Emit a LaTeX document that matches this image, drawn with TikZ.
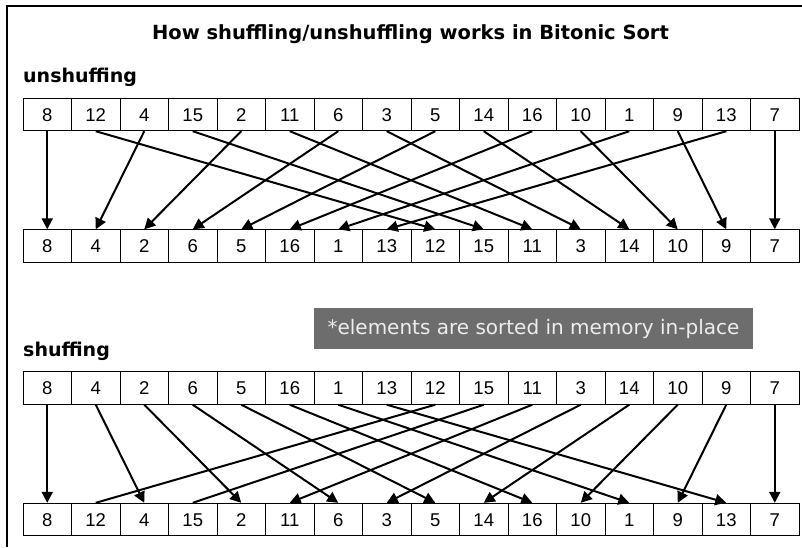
\documentclass[tikz,border=0pt]{standalone}
\usepackage{fontspec}
\setmainfont{Liberation Sans}
\newfontfamily\headfont{DejaVu Sans}
\usetikzlibrary{arrows.meta}

\definecolor{notegray}{HTML}{6D6D6D}

\begin{document}
\begin{tikzpicture}[
  x=1pt, y=-1pt,
  font=\fontsize{18.5}{21}\selectfont,
  cell/.style={
    draw,
    line width=0.9pt,
    minimum width=48.5pt,
    minimum height=32.5pt,
    text height=13.3pt,
    text depth=0pt,
    inner sep=0pt
  },
  heading/.style={
    font=\headfont\fontsize{19.5}{22}\selectfont\bfseries,
    anchor=base,
    inner sep=0pt
  },
  label/.style={
    font=\headfont\fontsize{19}{21}\selectfont\bfseries,
    anchor=base west,
    inner sep=0pt
  },
  note/.style={
    fill=notegray,
    text=white!93!black,
    font=\headfont\fontsize{20}{22}\selectfont,
    minimum width=439pt,
    minimum height=41pt,
    inner sep=0pt
  },
  movearrow/.style={
    -{Triangle[length=11pt,width=11pt]},
    line width=2pt
  },
  moveline/.style={
    line width=2pt
  }
]

\useasboundingbox (0,0) rectangle (802,547);

% frame
\draw[line width=1.2pt] (802,6) -- (7,6) -- (7,547);

\node[heading] (title) at (410.5,39) {How shuffling/unshuffling works in Bitonic Sort};

% Unshuffling
\node[label] (unsh_label) at (23,82) {unshuffing};

\foreach \v [count=\i from 0] in {8,12,4,15,2,11,6,3,5,14,16,10,1,9,13,7}
  \node[cell] (unsh_top\i) at (47.25+48.5*\i,114.5) {\v};

\foreach \v [count=\i from 0] in {8,4,2,6,5,16,1,13,12,15,11,3,14,10,9,7}
  \node[cell] (unsh_bot\i) at (47.25+48.5*\i,246) {\v};

\foreach \i in {0,...,15} {
  \pgfmathtruncatemacro\j{mod(\i,2)==0 ? \i/2 : 8+(\i-1)/2}
  \draw[movearrow] (unsh_top\i.south) -- (unsh_bot\j.north);
}

\node[note] (inplace) at (533.5,328.5) {*elements are sorted in memory in-place};

% Shuffling
\node[label] (sh_label) at (23,356) {shuffing};

\foreach \v [count=\i from 0] in {8,4,2,6,5,16,1,13,12,15,11,3,14,10,9,7}
  \node[cell] (sh_top\i) at (47.25+48.5*\i,388) {\v};

\foreach \v [count=\i from 0] in {8,12,4,15,2,11,6,3,5,14,16,10,1,9,13,7}
  \node[cell] (sh_bot\i) at (47.25+48.5*\i,519.5) {\v};

\foreach \i in {0,...,7} {
  \pgfmathtruncatemacro\j{2*\i}
  \draw[movearrow] (sh_top\i.south) -- (sh_bot\j.north);
}
\draw[moveline] (sh_top8.south) -- (sh_bot1.north);
\draw[moveline] (sh_top9.south) -- (sh_bot3.north);
\foreach \i in {10,...,15} {
  \pgfmathtruncatemacro\j{2*(\i-8)+1}
  \draw[movearrow] (sh_top\i.south) -- (sh_bot\j.north);
}

\end{tikzpicture}
\end{document}
